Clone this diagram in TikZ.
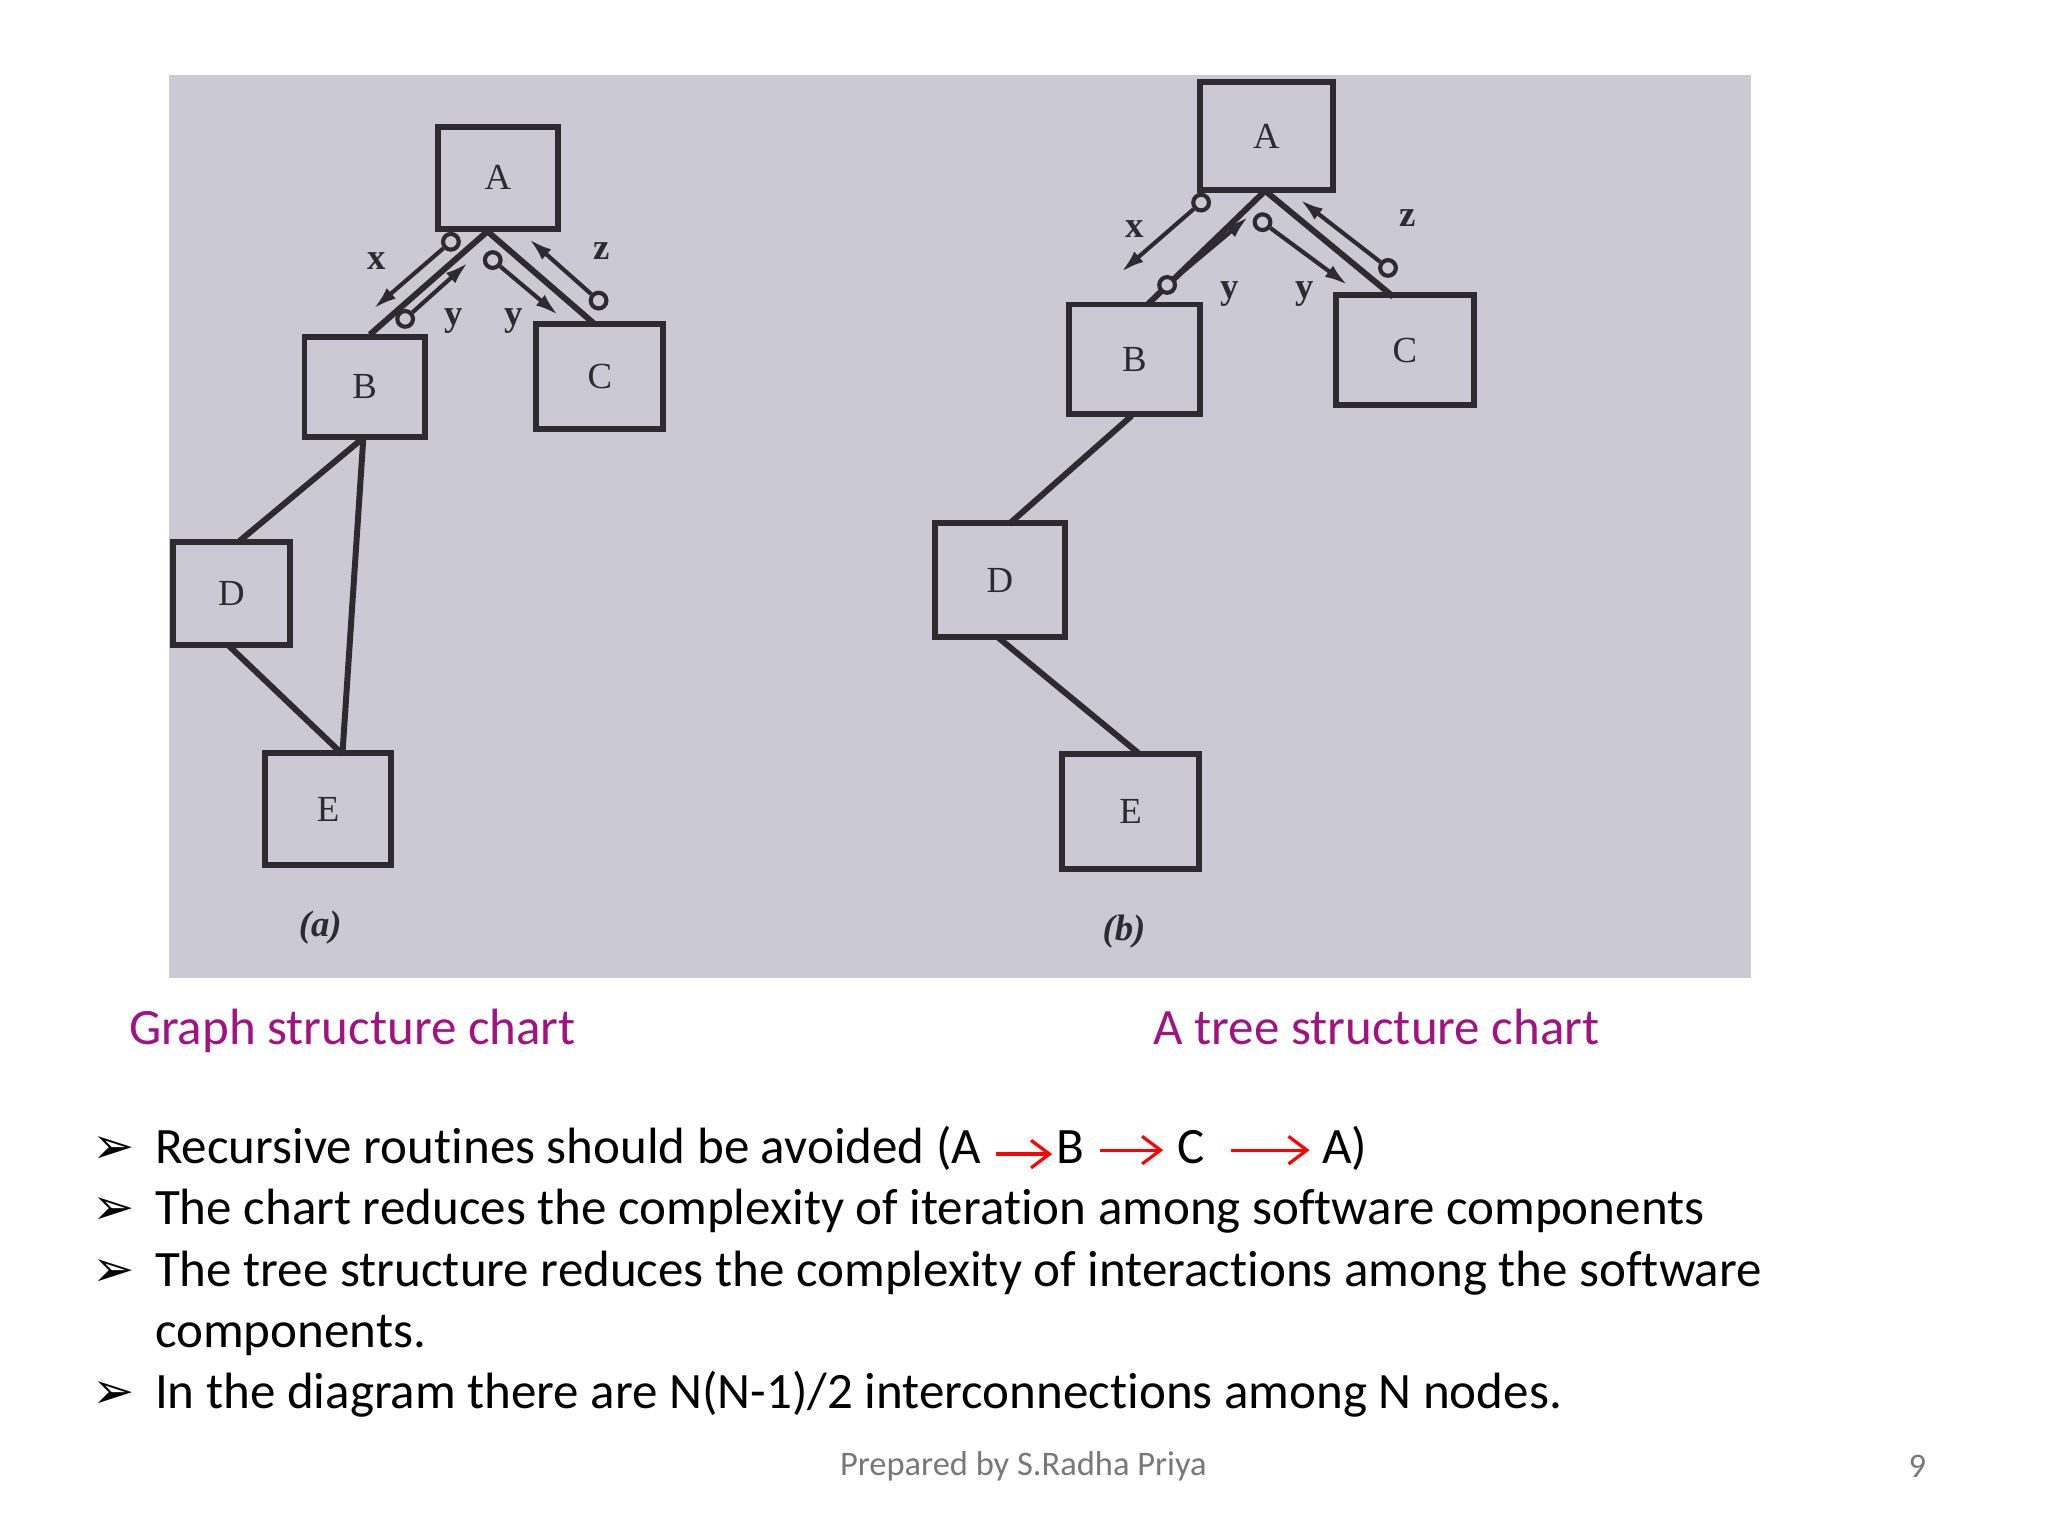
\documentclass[tikz,border=0pt]{standalone}
\usepackage{fontspec}
\setmainfont[Ligatures=NoCommon]{Carlito}
\newfontfamily\photofont{Liberation Serif}
\newfontfamily\symfont{DejaVu Sans}
\usetikzlibrary{arrows.meta}
\definecolor{photo}{RGB}{202,201,212}
\definecolor{ink}{RGB}{45,42,48}
\definecolor{capt}{RGB}{160,20,130}
\definecolor{foot}{RGB}{120,120,120}
\tikzset{
  box/.style={draw=ink,line width=1.3pt,inner sep=0pt,font=\photofont\footnotesize,text=ink},
  link/.style={draw=ink,line width=1.3pt},
  couple/.style={draw=ink,line width=0.9pt,-{Latex[length=5pt,width=3pt]}},
  ring/.style={draw=ink,line width=0.9pt,fill=photo,circle,inner sep=0pt,minimum size=0.12cm},
  lab/.style={font=\photofont\footnotesize\bfseries,text=ink},
  body/.style={anchor=base west,font=\fontsize{11.1}{13}\selectfont,inner sep=0pt},
  bul/.style={anchor=base west,font=\symfont\fontsize{11}{13}\selectfont,inner sep=0pt},
  redarr/.style={draw=red,line width=0.7pt,-{Straight Barb[length=4pt,width=6pt]}},
  captxt/.style={anchor=base west,font=\fontsize{11.1}{13}\selectfont,text=capt,inner sep=0pt}
}
\begin{document}
\begin{tikzpicture}[x=0.01cm,y=-0.01cm]
\useasboundingbox (0,0) rectangle (1567,1175);
\fill[white] (0,0) rectangle (1567,1175);
\fill[photo] (129,57) rectangle (1340,748);
% (a)
\node[box,minimum width=0.92cm,minimum height=0.78cm] (aA) at (381,136) {A};
\node[box,minimum width=0.92cm,minimum height=0.77cm] (aB) at (279,296) {B};
\node[box,minimum width=0.97cm,minimum height=0.80cm] (aC) at (459,288) {C};
\node[box,minimum width=0.89cm,minimum height=0.79cm] (aD) at (177,454) {D};
\node[box,minimum width=0.97cm,minimum height=0.85cm] (aE) at (251,619) {E};
\coordinate (aJ) at (373,177);
\coordinate (aBt) at (283,256);
\coordinate (aCt) at (455,248);
\coordinate (aBb) at (278,335);
\coordinate (aDt) at (182,415);
\coordinate (aDb) at (175,494);
\coordinate (aEt) at (262,577);
\draw[link] (aJ) -- (aBt);
\draw[link] (aJ) -- (aCt);
\draw[link] (aBb) -- (aDt);
\draw[link] (aBb) -- (aEt);
\draw[link] (aDb) -- (aEt);
\node[ring] (ax1) at (345,185) {};
\coordinate (ax2) at (286,236);
\draw[couple] (ax1) -- (ax2);
\node[ring] (ay1) at (310,244) {};
\coordinate (ay2) at (358,201);
\draw[couple] (ay1) -- (ay2);
\node[ring] (ay3) at (377,199) {};
\coordinate (ay4) at (427,241);
\draw[couple] (ay3) -- (ay4);
\node[ring] (az1) at (458,230) {};
\coordinate (az2) at (405,183);
\draw[couple] (az1) -- (az2);
\node[lab] (alx) at (288,200) {x};
\node[lab] (alz) at (460,192) {z};
\node[lab] (aly1) at (347,246) {y};
\node[lab] (aly2) at (393,246) {y};
\node[font=\photofont\footnotesize\itshape\bfseries,text=ink] (acap) at (245,710) {(a)};
% (b)
\node[box,minimum width=1.02cm,minimum height=0.82cm] (bA) at (969,104) {A};
\node[box,minimum width=1.00cm,minimum height=0.84cm] (bB) at (868,275) {B};
\node[box,minimum width=1.05cm,minimum height=0.84cm] (bC) at (1075,268) {C};
\node[box,minimum width=0.99cm,minimum height=0.87cm] (bD) at (765,444) {D};
\node[box,minimum width=1.05cm,minimum height=0.88cm] (bE) at (865,621) {E};
\coordinate (bJ) at (968,146);
\coordinate (bBt) at (878,233);
\coordinate (bCt) at (1066,227);
\coordinate (bBb) at (866,318);
\coordinate (bDt) at (772,401);
\coordinate (bDb) at (764,488);
\coordinate (bEt) at (872,577);
\draw[link] (bJ) -- (bBt);
\draw[link] (bJ) -- (bCt);
\draw[link] (bBb) -- (bDt);
\draw[link] (bDb) -- (bEt);
\node[ring] (bx1) at (919,155) {};
\coordinate (bx2) at (858,208);
\draw[couple] (bx1) -- (bx2);
\node[ring] (by1) at (893,218) {};
\coordinate (by2) at (955,166);
\draw[couple] (by1) -- (by2);
\node[ring] (by3) at (966,170) {};
\coordinate (by4) at (1031,218);
\draw[couple] (by3) -- (by4);
\node[ring] (bz1) at (1062,205) {};
\coordinate (bz2) at (995,153);
\draw[couple] (bz1) -- (bz2);
\node[lab] (blx) at (868,175) {x};
\node[lab] (blz) at (1077,167) {z};
\node[lab] (bly1) at (941,225) {y};
\node[lab] (bly2) at (998,225) {y};
\node[font=\photofont\footnotesize\itshape\bfseries,text=ink] (bcap) at (860,713) {(b)};
% captions
\node[captxt] (c1) at (98,799) {Graph structure chart};
\node[captxt] (c2) at (882,799) {A tree structure chart};
% bullets
\node[bul] (u1) at (70,890) {➢};
\node[bul] (u2) at (70,937) {➢};
\node[bul] (u3) at (70,984) {➢};
\node[bul] (u5) at (70,1078) {➢};
\node[body] (t1) at (118,890) {Recursive routines should be avoided (A};
\node[body] (t1b) at (808,890) {B};
\node[body] (t1c) at (900,890) {C};
\node[body] (t1a) at (1011,890) {A)};
\coordinate (r1s) at (762,883);\coordinate (r1e) at (805,883);
\coordinate (r2s) at (842,880);\coordinate (r2e) at (890,880);
\coordinate (r3s) at (942,880);\coordinate (r3e) at (1002,880);
\draw[redarr] (r1s) -- (r1e);
\draw[redarr] (r2s) -- (r2e);
\draw[redarr] (r3s) -- (r3e);
\node[body] (t2) at (118,937) {The chart reduces the complexity of iteration among software components};
\node[body] (t3) at (118,984) {The tree structure reduces the complexity of interactions among the software};
\node[body] (t4) at (118,1031) {components.};
\node[body] (t5) at (118,1078) {In the diagram there are N(N-1)/2 interconnections among N nodes.};
\node[font=\fontsize{7.5}{8}\selectfont,text=foot] (ft) at (783,1122) {Prepared by S.Radha Priya};
\node[font=\fontsize{7.5}{8}\selectfont,text=foot] (pg) at (1467,1122) {9};
\end{tikzpicture}
\end{document}
